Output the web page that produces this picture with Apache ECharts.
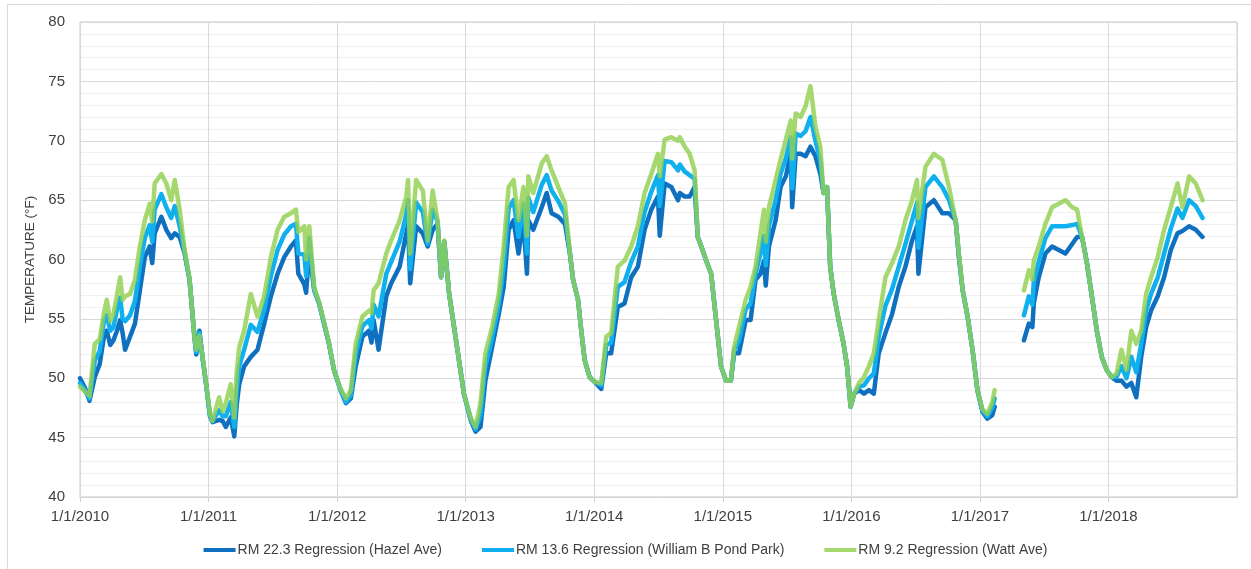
<!DOCTYPE html>
<html>
<head>
<meta charset="utf-8">
<script src="https://cdn.jsdelivr.net/npm/echarts@6/dist/echarts.min.js"></script>
<style>
html,body{margin:0;padding:0;background:#fff;}
#chart{width:1251px;height:569px;}
</style>
</head>
<body>
<div id="chart"></div>
<script>
// ---- DATA (sample dates, °F) ----
const dates = [
 '2010-01-01','2010-01-15','2010-01-28','2010-02-12','2010-02-26','2010-03-10','2010-03-18','2010-03-28','2010-04-06','2010-04-16','2010-04-25','2010-05-02','2010-05-09','2010-05-23','2010-06-06','2010-06-20','2010-07-04','2010-07-18','2010-07-25','2010-08-01','2010-08-20','2010-09-03','2010-09-17','2010-09-27','2010-10-11','2010-10-25','2010-11-08','2010-11-22','2010-11-27','2010-12-06','2010-12-16','2010-12-25',
 '2011-01-05','2011-01-12','2011-01-31','2011-02-10','2011-02-19','2011-03-05','2011-03-15','2011-03-22','2011-03-29','2011-04-12','2011-05-01','2011-05-20','2011-06-08','2011-06-27','2011-07-16','2011-08-04','2011-08-23','2011-09-06','2011-09-13','2011-09-30','2011-10-05','2011-10-14','2011-10-28','2011-11-11','2011-11-25','2011-12-09','2011-12-23',
 '2012-01-11','2012-01-26','2012-02-09','2012-02-23','2012-03-13','2012-04-01','2012-04-08','2012-04-14','2012-04-28','2012-05-20','2012-06-03','2012-06-27','2012-07-16','2012-07-21','2012-07-27','2012-08-13','2012-09-01','2012-09-15','2012-09-29','2012-10-13','2012-10-23','2012-11-01','2012-11-15','2012-11-29','2012-12-13','2012-12-27',
 '2013-01-15','2013-01-29','2013-02-12','2013-02-26','2013-03-17','2013-04-05','2013-04-19','2013-05-03','2013-05-17','2013-05-31','2013-06-14','2013-06-24','2013-06-28','2013-07-12','2013-08-05','2013-08-19','2013-09-02','2013-09-21','2013-10-10','2013-10-24','2013-11-02','2013-11-16','2013-11-26','2013-12-05','2013-12-19',
 '2014-01-02','2014-01-21','2014-02-04','2014-02-18','2014-03-09','2014-03-28','2014-04-16','2014-05-05','2014-05-24','2014-06-12','2014-07-01','2014-07-06','2014-07-20','2014-08-08','2014-08-27','2014-09-01','2014-09-15','2014-09-29','2014-10-13','2014-10-22','2014-11-01','2014-11-15','2014-11-29','2014-12-13','2014-12-27',
 '2015-01-10','2015-01-24','2015-02-02','2015-02-16','2015-03-07','2015-03-21','2015-04-04','2015-04-18','2015-04-28','2015-05-03','2015-05-12','2015-05-31','2015-06-14','2015-06-29','2015-07-13','2015-07-17','2015-07-27','2015-08-10','2015-08-24','2015-09-07','2015-09-21','2015-10-05','2015-10-14','2015-10-24','2015-11-02','2015-11-12','2015-11-26','2015-12-10','2015-12-20','2015-12-30',
 '2016-01-09','2016-01-23','2016-02-06','2016-02-20','2016-03-05','2016-03-19','2016-04-07','2016-04-26','2016-05-15','2016-06-03','2016-06-22','2016-07-06','2016-07-10','2016-07-30','2016-08-23','2016-09-16','2016-10-05','2016-10-24','2016-11-03','2016-11-13','2016-11-27','2016-12-11','2016-12-25',
 '2017-01-08','2017-01-22','2017-02-05','2017-02-12','2017-03-20','2017-05-06','2017-05-20','2017-05-30','2017-06-03','2017-06-17','2017-07-06','2017-07-25','2017-08-13','2017-09-01','2017-09-20','2017-10-04','2017-10-18','2017-11-01','2017-11-15','2017-11-29','2017-12-13','2017-12-27',
 '2018-01-10','2018-01-24','2018-02-07','2018-02-21','2018-03-07','2018-03-21','2018-04-04','2018-04-18','2018-05-02','2018-05-21','2018-06-08','2018-06-27','2018-07-16','2018-07-30','2018-08-18','2018-09-06','2018-09-25'
];
const hazel = [
 50.0,49.2,48.1,50.1,51.2,53.5,54.0,52.8,53.2,54.0,54.9,53.8,52.4,53.5,54.6,57.4,60.2,61.1,59.7,62.2,63.6,62.5,61.8,62.2,61.9,60.5,58.3,53.5,52.0,54.0,51.5,49.5,
 46.8,46.3,46.5,46.4,45.9,46.7,45.1,47.8,49.5,51.0,51.8,52.4,54.6,56.9,58.8,60.2,61.1,61.6,58.8,57.9,57.2,60.8,57.4,56.3,54.6,52.9,50.7,
 49.0,47.9,48.3,51.0,53.5,54.0,53.0,54.9,52.4,56.9,58.0,59.4,62.2,63.0,58.0,62.8,62.2,61.1,62.5,63.0,58.5,61.5,57.1,54.3,51.5,48.7,
 46.5,45.5,45.9,49.8,52.6,55.4,57.7,62.5,63.3,60.5,63.3,58.8,63.3,62.5,64.4,65.6,63.9,63.6,63.0,60.5,58.3,56.6,53.8,51.5,50.1,
 49.7,49.1,52.1,52.1,56.0,56.3,58.5,59.4,62.5,64.2,65.3,62.0,66.4,66.1,65.0,65.6,65.3,65.3,66.1,61.9,61.1,59.9,58.8,54.9,51.0,
 49.8,49.8,52.1,52.1,54.9,54.9,58.3,58.8,59.9,57.8,61.1,63.3,66.1,67.0,68.9,64.4,68.9,68.9,68.7,69.5,68.7,67.2,65.6,66.1,59.4,57.1,54.9,52.9,51.0,47.6,
 48.7,49.0,48.7,49.0,48.7,52.1,53.8,55.4,57.7,59.4,61.6,62.8,58.8,64.4,65.0,63.9,63.9,63.3,60.0,57.4,55.2,52.4,49.0,
 47.2,46.6,46.9,47.6,null,53.2,54.6,54.3,56.3,58.5,60.5,61.1,60.8,60.5,61.3,61.9,61.9,59.7,56.9,54.0,51.8,50.7,
 50.1,49.8,49.8,49.3,49.6,48.4,51.8,54.3,55.7,56.9,58.5,60.8,62.2,62.4,62.8,62.5,61.9
];
const pond = [
 49.6,49.0,48.3,51.5,52.3,54.8,55.3,54.0,54.3,55.8,56.8,55.0,54.8,55.3,56.5,59.4,61.8,62.9,61.5,64.2,65.5,64.4,63.5,64.5,62.8,60.6,58.3,53.4,52.2,53.8,51.5,49.5,
 46.9,46.4,47.3,46.8,46.8,48.0,45.9,49.0,51.0,52.4,54.5,53.9,55.8,58.6,60.8,62.1,62.8,63.0,60.5,60.4,58.6,61.8,57.5,56.3,54.6,52.9,50.7,
 49.0,48.0,48.6,52.0,54.4,54.9,54.2,56.2,55.2,58.8,59.8,61.5,63.8,65.0,59.2,64.8,64.0,61.3,64.2,63.2,58.5,61.5,57.1,54.3,51.5,48.7,
 46.6,45.7,46.9,51.0,53.4,56.2,59.4,64.3,65.0,61.9,64.7,60.5,65.2,64.0,66.3,67.1,65.8,64.9,63.8,60.5,58.3,56.6,53.8,51.5,50.1,
 49.7,49.4,52.8,53.0,57.7,58.1,59.8,61.1,64.0,65.7,67.1,64.5,68.3,68.2,67.5,68.0,67.4,67.1,66.8,61.9,61.1,59.9,58.8,54.9,51.0,
 49.8,49.8,52.3,53.2,55.8,56.3,58.8,60.5,62.0,59.5,62.8,65.0,67.2,68.5,70.3,66.0,70.6,70.4,70.8,72.0,70.0,68.3,65.6,66.1,59.4,57.1,54.9,52.9,51.0,47.6,
 48.7,49.3,49.4,50.0,50.4,53.5,56.1,57.5,59.4,61.3,63.3,64.8,61.0,66.1,67.0,66.1,65.0,63.3,60.1,57.4,55.2,52.4,49.0,
 47.3,46.8,47.5,48.3,null,55.3,56.9,56.2,58.1,59.8,61.8,62.8,62.8,62.8,62.9,63.0,61.9,59.7,56.9,54.0,51.8,50.7,
 50.1,50.1,51.0,50.0,51.8,50.5,52.9,55.7,57.1,58.5,60.5,62.6,64.3,63.5,65.0,64.5,63.5
];
const watt = [
 49.3,48.9,48.5,52.9,53.3,55.5,56.6,54.8,55.4,57.0,58.5,56.6,56.9,57.1,58.3,61.1,63.3,64.7,63.2,66.4,67.2,66.4,65.0,66.7,64.2,60.8,58.4,53.4,52.4,53.6,51.6,49.6,
 47.0,46.4,48.4,47.2,47.9,49.5,46.7,50.5,52.6,54.0,57.1,55.2,56.9,60.2,62.5,63.6,63.9,64.2,62.3,62.8,60.0,62.8,57.6,56.4,54.7,53.0,50.7,
 49.1,48.3,49.0,52.9,55.2,55.7,55.5,57.4,58.0,60.5,61.6,63.3,65.3,66.7,60.5,66.7,65.8,61.6,65.8,63.3,58.5,61.6,57.1,54.3,51.5,48.7,
 46.7,45.9,47.9,52.1,54.3,57.1,61.1,66.1,66.7,63.3,66.1,62.0,67.0,65.6,68.1,68.7,67.5,66.1,64.7,60.6,58.3,56.6,53.8,51.5,50.1,
 49.7,49.6,53.5,53.8,59.4,59.9,61.1,62.8,65.6,67.2,68.9,67.0,70.1,70.3,70.0,70.3,69.5,68.9,67.5,61.9,61.1,59.9,58.8,54.9,51.0,
 49.8,49.8,52.6,54.3,56.6,57.7,59.4,62.2,64.2,61.5,64.4,66.7,68.4,70.1,71.7,68.5,72.3,72.0,72.9,74.6,71.2,69.5,65.6,66.1,59.4,57.1,54.9,52.9,51.0,47.6,
 48.7,49.6,50.1,51.0,52.1,54.9,58.5,59.7,61.1,63.3,65.0,66.7,63.5,67.8,68.9,68.4,66.1,63.3,60.3,57.4,55.2,52.4,49.0,
 47.4,47.0,48.0,49.0,null,57.4,59.1,58.3,59.9,61.1,63.0,64.4,64.7,65.0,64.4,64.2,61.9,59.7,56.9,54.0,51.8,50.7,
 50.1,50.4,52.4,50.7,54.0,52.9,54.0,57.1,58.5,60.2,62.5,64.4,66.4,64.4,67.0,66.4,65.0
];
const seriesNames = ['RM 22.3 Regression (Hazel Ave)','RM 13.6 Regression (William B Pond Park)','RM 9.2 Regression (Watt Ave)'];
const yearTicks = [2010,2011,2012,2013,2014,2015,2016,2017,2018,2019];
const yTitle = 'TEMPERATURE (°F)';

// ---- build ----
if (hazel.length !== dates.length || pond.length !== dates.length || watt.length !== dates.length) {
  throw new Error('length mismatch ' + dates.length + ' ' + hazel.length + ' ' + pond.length + ' ' + watt.length);
}
function decYear(s){
  const [y,m,d] = s.split('-').map(Number);
  const t = Date.UTC(y,m-1,d), a = Date.UTC(y,0,1), b = Date.UTC(y+1,0,1);
  return y + (t-a)/(b-a);
}
const xs = dates.map(decYear);
const pair = arr => arr.map((v,i)=>[xs[i], v==null ? '-' : v]);

const font = 'Liberation Sans, Arial, sans-serif';
const txt = '#404040';
const colors = ['#0f70c0','#10b0ee','rgba(146,208,80,0.82)'];

const chart = echarts.init(document.getElementById('chart'), null, {renderer:'canvas'});
chart.setOption({
  animation:false,
  backgroundColor:'#fff',
  textStyle:{fontFamily:font},
  graphic:[{type:'rect', shape:{x:7.5,y:4.5,width:1400,height:800}, style:{fill:'none', stroke:'#d9d9d9', lineWidth:1}, silent:true}],
  grid:{left:80, right:14, top:22, bottom:72, show:true, borderColor:'#c9c9c9', borderWidth:1, backgroundColor:'transparent'},
  legend:{
    bottom:7, left:'center', icon:'rect', itemWidth:32, itemHeight:4, itemGap:40,
    textStyle:{fontSize:14, color:txt, fontFamily:font, padding:[0,0,0,-3]},
    data:seriesNames
  },
  xAxis:{
    type:'value', min:yearTicks[0], max:yearTicks[yearTicks.length-1], interval:1,
    axisLine:{show:true, lineStyle:{color:'#d0d0d0'}},
    axisTick:{show:true, length:5, lineStyle:{color:'#d0d0d0'}},
    axisLabel:{fontSize:15, color:txt, fontFamily:font, margin:12, showMaxLabel:false,
      formatter: v => (v === yearTicks[yearTicks.length-1] ? '' : '1/1/' + Math.round(v))},
    splitLine:{show:true, lineStyle:{color:'#d9d9d9'}}
  },
  yAxis:{
    type:'value', min:40, max:80, interval:5,
    name:yTitle, nameLocation:'middle', nameGap:43, nameRotate:90,
    nameTextStyle:{fontSize:13.5, color:txt, fontFamily:font},
    axisLine:{show:false}, axisTick:{show:false},
    axisLabel:{fontSize:15, color:txt, fontFamily:font, margin:15},
    splitLine:{show:true, lineStyle:{color:'#d9d9d9'}},
    minorTick:{show:false, splitNumber:5},
    minorSplitLine:{show:true, lineStyle:{color:'#f0f0f0'}}
  },
  series:[
    {name:seriesNames[0], type:'line', data:pair(hazel), showSymbol:false, connectNulls:false, color:colors[0], lineStyle:{width:4.5, color:colors[0], cap:'round', join:'round'}, z:2},
    {name:seriesNames[1], type:'line', data:pair(pond), showSymbol:false, connectNulls:false, color:colors[1], lineStyle:{width:4.5, color:colors[1], cap:'round', join:'round'}, z:3},
    {name:seriesNames[2], type:'line', data:pair(watt), showSymbol:false, connectNulls:false, color:colors[2], lineStyle:{width:4.5, color:colors[2], cap:'round', join:'round'}, z:4}
  ]
});
</script>
</body>
</html>
